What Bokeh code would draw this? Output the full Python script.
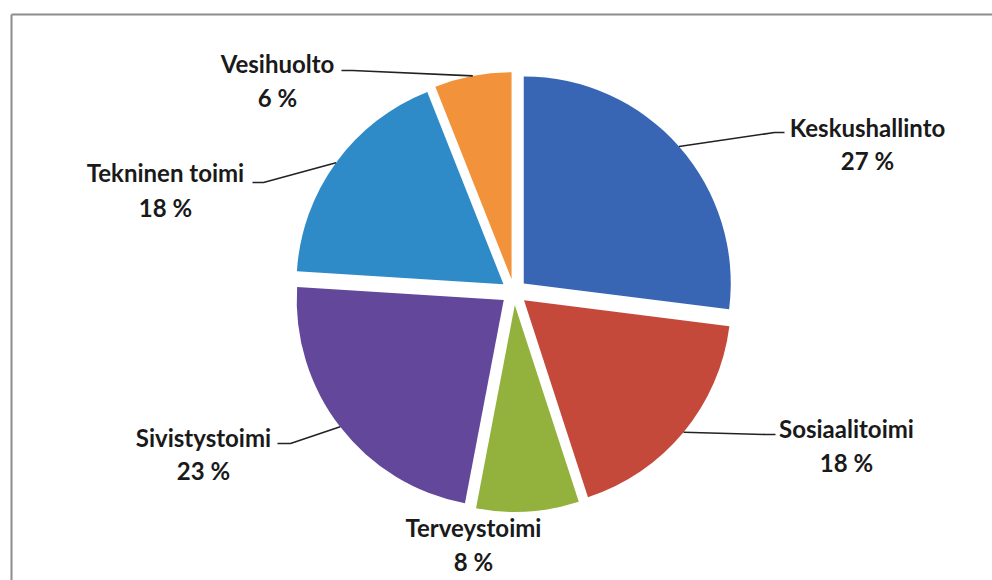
import numpy as np
from bokeh.plotting import figure
from bokeh.models import ColumnDataSource
from bokeh.core.properties import value
from bokeh.embed import file_html
from bokeh.resources import INLINE

# ---- data ----
categories = ["Keskushallinto", "Sosiaalitoimi", "Terveystoimi",
              "Sivistystoimi", "Tekninen toimi", "Vesihuolto"]
shares = [27, 18, 8, 23, 18, 6]
colors = ["#3866B5", "#C4493B", "#93B13D", "#62479B", "#2F8BC8", "#F2923A"]

# ---- layout ----
W, H = 992, 580


def px(wx):
    return wx


def py(wy):
    return H - wy


CX, CY = px(513.5), py(291.5)
R = 207
EXPLODE = 13
FONT = "Lato"
FSIZE = "24px"

# label placement (window px): name x, name y, pct y, leader start x, y, elbow x
label_layout = {
    "Keskushallinto": (867, 127, 160, 784, 132, 774),
    "Sosiaalitoimi": (846, 428, 462, 775, 434, 765),
    "Terveystoimi": (473, 527, 561, None, None, None),
    "Sivistystoimi": (203, 437, 470, 277, 443, 290),
    "Tekninen toimi": (165, 172, 207, 252, 182, 263),
    "Vesihuolto": (277, 63, 97, 341, 70, 352),
}

vals = np.array(shares, dtype=float)
frac = vals / vals.sum()
cum = np.concatenate([[0.0], np.cumsum(frac)])
a_top = np.pi / 2 - 2 * np.pi * cum[:-1]
a_bot = np.pi / 2 - 2 * np.pi * cum[1:]
mid = (a_top + a_bot) / 2
xs = CX + EXPLODE * np.cos(mid)
ys = CY + EXPLODE * np.sin(mid)

p = figure(width=W, height=H, x_range=(0, W), y_range=(0, H),
           x_axis_location=None, y_axis_location=None,
           toolbar_location=None, output_backend="svg", min_border=0)
p.grid.visible = False
p.outline_line_color = None
p.background_fill_color = "white"
p.border_fill_color = "white"

# frame of the chart area (scanned border)
p.multi_line(xs=[[px(11), px(1000)], [px(11), px(11)]],
             ys=[[py(14), py(14)], [py(14), py(600)]],
             line_color="#8C8C8C", line_width=2)

src = ColumnDataSource(dict(x=xs, y=ys, start=a_bot, end=a_top, color=colors))
p.wedge(x="x", y="y", radius=R, start_angle="start", end_angle="end",
        fill_color="color", line_color=None, source=src)

# leader lines
lx, ly = [], []
for i, cat in enumerate(categories):
    lay = label_layout[cat]
    if lay[3] is None:
        continue
    ex = xs[i] + R * np.cos(mid[i])
    ey = ys[i] + R * np.sin(mid[i])
    lx.append([px(lay[3]), px(lay[5]), ex])
    ly.append([py(lay[4]), py(lay[4]), ey])
p.multi_line(xs=lx, ys=ly, line_color="#222222", line_width=1.6)

name_x = [px(label_layout[c][0]) for c in categories]
name_y = [py(label_layout[c][1]) for c in categories]
pct_y = [py(label_layout[c][2]) for c in categories]
pct_text = [f"{s} %" for s in shares]

p.text(x=name_x, y=name_y, text=categories, text_font=value(FONT),
       text_font_style="bold", text_font_size=FSIZE, text_align="center",
       text_baseline="middle", text_color="#1A1A1A")
p.text(x=name_x, y=pct_y, text=pct_text, text_font=value(FONT),
       text_font_style="bold", text_font_size=FSIZE, text_align="center",
       text_baseline="middle", text_color="#1A1A1A")

open("out.html", "w").write(file_html(p, INLINE))
